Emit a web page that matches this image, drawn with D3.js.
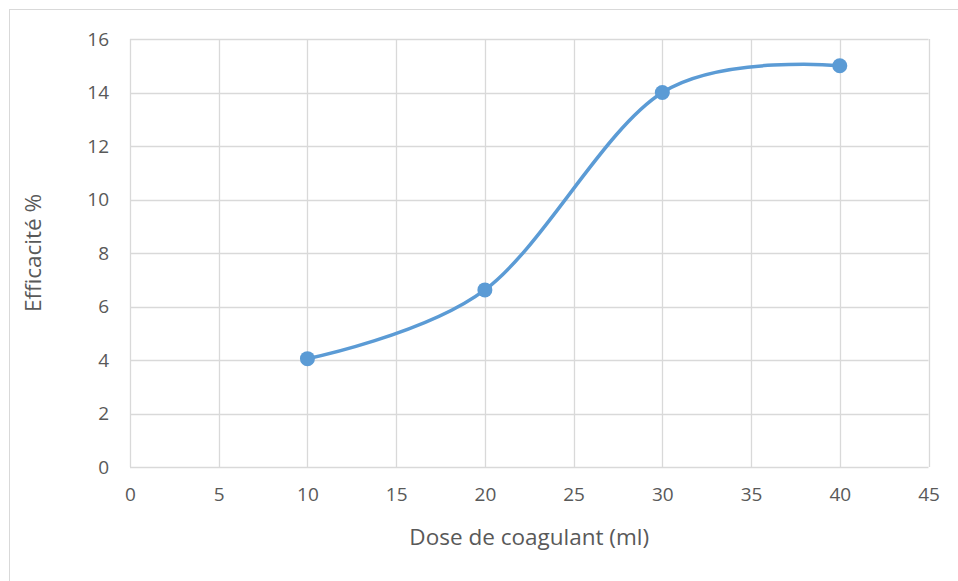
<!DOCTYPE html>
<html>
<head>
<meta charset="utf-8">
<script src="https://cdn.jsdelivr.net/npm/d3@7"></script>
<style>
  html, body { margin: 0; padding: 0; background: #fff; }
  svg { display: block; }
  text { font-family: "Open Sans", sans-serif; fill: #595959; }
</style>
</head>
<body>
<svg id="chart" width="958" height="581"></svg>
<script>
// Efficiency of coagulation versus coagulant dose
const doses = [10, 20, 30, 40];
const efficiency = [4.05, 6.62, 14.0, 15.0];
const xTicks = [0, 5, 10, 15, 20, 25, 30, 35, 40, 45];
const yTicks = [0, 2, 4, 6, 8, 10, 12, 14, 16];
const xTitle = "Dose de coagulant (ml)";
const yTitle = "Efficacité %";

const svg = d3.select("#chart");
const W = 958, H = 581;
const plot = { left: 130, right: 928.5, top: 39, bottom: 467 };

// outer chart frame
svg.append("rect")
  .attr("x", 9.5).attr("y", 9.5)
  .attr("width", W + 20).attr("height", H + 20)
  .attr("fill", "none").attr("stroke", "#d9d9d9").attr("stroke-width", 1);

const x = d3.scaleLinear().domain([0, 45]).range([plot.left, plot.right]);
const y = d3.scaleLinear().domain([0, 16]).range([plot.bottom, plot.top]);

// gridlines
const grid = svg.append("g").attr("stroke", "#d9d9d9").attr("stroke-width", 1.3);
grid.selectAll("line.v").data(xTicks).join("line")
  .attr("x1", d => Math.round(x(d)) + 0.5).attr("x2", d => Math.round(x(d)) + 0.5)
  .attr("y1", plot.top).attr("y2", plot.bottom);
grid.selectAll("line.h").data(yTicks).join("line")
  .attr("y1", d => Math.round(y(d)) + 0.5).attr("y2", d => Math.round(y(d)) + 0.5)
  .attr("x1", plot.left).attr("x2", plot.right);

// axes (labels only, the grid draws the lines)
const xAxis = svg.append("g")
  .attr("transform", `translate(0,${plot.bottom})`)
  .call(d3.axisBottom(x).tickValues(xTicks).tickSize(0).tickPadding(21));
xAxis.select(".domain").remove();
xAxis.selectAll("text").attr("font-size", 19).style("fill", "#595959");

const yAxis = svg.append("g")
  .attr("transform", `translate(${plot.left},0)`)
  .call(d3.axisLeft(y).tickValues(yTicks).tickSize(0).tickPadding(21));
yAxis.select(".domain").remove();
yAxis.selectAll("text").attr("font-size", 19).style("fill", "#595959");

// axis titles
svg.append("text")
  .attr("x", (plot.left + plot.right) / 2).attr("y", 545)
  .attr("text-anchor", "middle").attr("font-size", 22.5)
  .text(xTitle);
svg.append("text")
  .attr("transform", `translate(41,${(plot.top + plot.bottom) / 2}) rotate(-90)`)
  .attr("text-anchor", "middle").attr("font-size", 22.5)
  .text(yTitle);

// smoothed series line
const pts = doses.map((d, i) => [d, efficiency[i]]);
const line = d3.line()
  .x(d => x(d[0])).y(d => y(d[1]))
  .curve(d3.curveCardinal.tension(0));
svg.append("path")
  .datum(pts)
  .attr("d", line)
  .attr("fill", "none")
  .attr("stroke", "#5b9bd5")
  .attr("stroke-width", 3.5)
  .attr("stroke-linecap", "round");

// markers
svg.selectAll("circle.pt").data(pts).join("circle")
  .attr("cx", d => x(d[0])).attr("cy", d => y(d[1]))
  .attr("r", 7.5)
  .attr("fill", "#5b9bd5");
</script>
</body>
</html>
